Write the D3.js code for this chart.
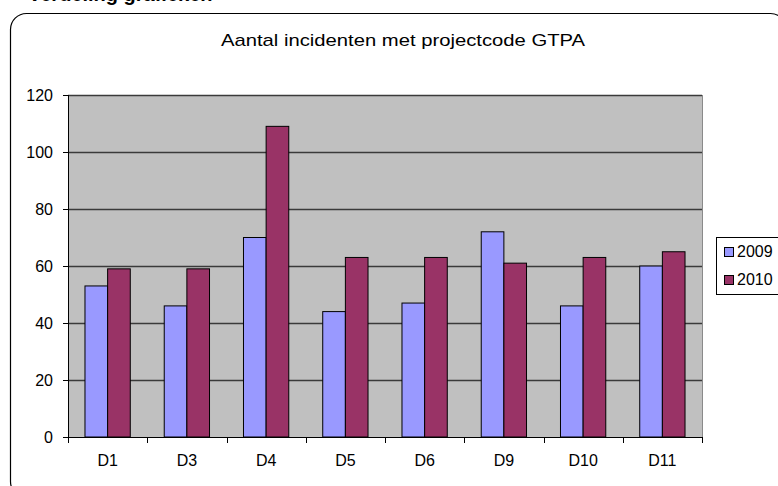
<!DOCTYPE html>
<html>
<head>
<meta charset="utf-8">
<script src="https://cdn.jsdelivr.net/npm/d3@7"></script>
<style>
  body { margin: 0; background: #fff; overflow: hidden; }
  svg { display: block; font-family: Arial, "Liberation Sans", sans-serif; }
</style>
</head>
<body>
<div id="canvas"></div>
<script>
// Data of the chart
const categories = ["D1", "D3", "D4", "D5", "D6", "D9", "D10", "D11"];
const seriesNames = ["2009", "2010"];
const values2009 = [53, 46, 70, 44, 47, 72, 46, 60];
const values2010 = [59, 59, 109, 63, 63, 61, 63, 65];
const yTicks = [0, 20, 40, 60, 80, 100, 120];

const colors = {"2009": "#9999FF", "2010": "#993366"};

const width = 778;
const height = 486;
const margin = {top: 95, left: 68, bottom: 49, right: 76};
const iwidth = width - margin.left - margin.right;
const iheight = height - margin.top - margin.bottom;

const svg = d3.select("#canvas").append("svg")
    .attr("width", width)
    .attr("height", height);

// Heading of the page above the chart (cut off at the top)
svg.append("text")
    .attr("x", 28)
    .attr("y", 1)
    .style("font-size", "20px")
    .style("font-weight", "bold")
    .text("Verdeling grafieken");

// Rounded chart border
svg.append("rect")
    .attr("x", 10.5)
    .attr("y", 13.5)
    .attr("width", 776)
    .attr("height", 484)
    .attr("rx", 16)
    .attr("fill", "none")
    .attr("stroke", "#000")
    .attr("stroke-width", 1.2);

// Title
svg.append("text")
    .attr("x", 403)
    .attr("y", 46)
    .attr("text-anchor", "middle")
    .attr("textLength", 364)
    .attr("lengthAdjust", "spacingAndGlyphs")
    .style("font-size", "17px")
    .text("Aantal incidenten met projectcode GTPA");

const g = svg.append("g").attr("transform", `translate(${margin.left}, ${margin.top})`);

const x = d3.scaleBand()
    .domain(categories)
    .range([0, iwidth]);

const y = d3.scaleLinear()
    .domain([0, 120])
    .range([iheight, 0]);

// Excel gap width 150%
const barW = x.bandwidth() / 3.5;
const xs = d3.scaleBand()
    .domain(seriesNames)
    .range([barW * 0.75, barW * 2.75]);

// Plot area background
g.append("rect")
    .attr("width", iwidth)
    .attr("height", iheight)
    .attr("fill", "#C0C0C0");

// Gridlines
g.append("g")
    .selectAll("line")
    .data(yTicks.filter(d => d > 0))
    .enter().append("line")
    .attr("x1", 0)
    .attr("x2", iwidth)
    .attr("y1", d => y(d) + 0.5)
    .attr("y2", d => y(d) + 0.5)
    .attr("stroke", "#3a3a3a")
    .attr("stroke-width", 1.3);

// Right border of plot area
g.append("line")
    .attr("x1", iwidth + 0.5).attr("x2", iwidth + 0.5)
    .attr("y1", 0).attr("y2", iheight)
    .attr("stroke", "#8a8a8a");

const table = categories.map((c, i) => ({cat: c, vals: [
    {s: "2009", v: values2009[i]},
    {s: "2010", v: values2010[i]}
]}));

// Bars
g.append("g")
    .selectAll("g")
    .data(table)
    .enter().append("g")
    .attr("transform", d => `translate(${x(d.cat)}, 0)`)
    .selectAll("rect")
    .data(d => d.vals)
    .enter().append("rect")
    .attr("x", d => xs(d.s))
    .attr("y", d => y(d.v))
    .attr("width", xs.bandwidth())
    .attr("height", d => iheight - y(d.v))
    .attr("fill", d => colors[d.s])
    .attr("stroke", "#000")
    .attr("stroke-width", 1);

// Y axis
const yAxis = g.append("g")
    .call(d3.axisLeft(y).tickValues(yTicks).tickSize(5).tickPadding(10));
yAxis.select(".domain").attr("stroke", "#000").attr("d", `M0.5,0V${iheight}`);
yAxis.selectAll("line").attr("stroke", "#000");
yAxis.selectAll("text").style("font-size", "16px").attr("fill", "#000");

// X axis with ticks at the category boundaries
const xAxis = g.append("g")
    .attr("transform", `translate(0, ${iheight})`)
    .call(d3.axisBottom(x).tickSize(0).tickPadding(18));
xAxis.select(".domain").attr("stroke", "#000").attr("d", `M0,0.5H${iwidth}`);
xAxis.selectAll("text").style("font-size", "16px").attr("fill", "#000");
xAxis.selectAll(".boundary")
    .data(d3.range(categories.length + 1))
    .enter().append("line")
    .attr("class", "boundary")
    .attr("x1", i => Math.round(i * x.step()) + 0.5)
    .attr("x2", i => Math.round(i * x.step()) + 0.5)
    .attr("y1", 0)
    .attr("y2", 6)
    .attr("stroke", "#000");

// Legend
const legend = svg.append("g").attr("transform", "translate(716, 237)");
legend.append("rect")
    .attr("x", 0.5).attr("y", 0.5)
    .attr("width", 80).attr("height", 57)
    .attr("fill", "#fff")
    .attr("stroke", "#000");
const items = legend.selectAll(".item")
    .data(seriesNames)
    .enter().append("g")
    .attr("class", "item")
    .attr("transform", (d, i) => `translate(8, ${10 + i * 28})`);
items.append("rect")
    .attr("x", 0.5).attr("y", 0.5)
    .attr("width", 9).attr("height", 9)
    .attr("fill", d => colors[d])
    .attr("stroke", "#000");
items.append("text")
    .attr("x", 13)
    .attr("y", 10)
    .style("font-size", "16px")
    .text(d => d);
</script>
</body>
</html>
